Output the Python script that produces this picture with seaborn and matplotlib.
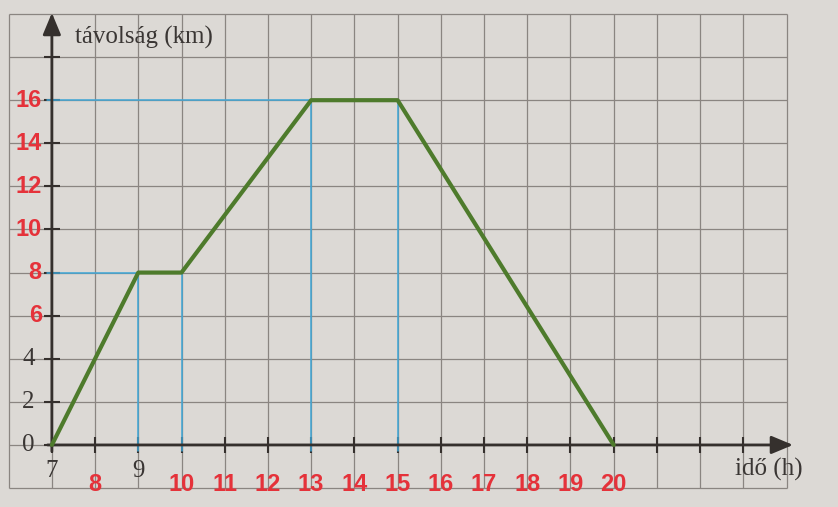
import matplotlib
matplotlib.use("Agg")
import matplotlib.pyplot as plt
import seaborn as sns

# Data: time of day (h) and distance (km)
hours = [7, 9, 10, 13, 15, 20]
distance = [0, 8, 8, 16, 16, 0]

# Tick values and which labels are printed in gray (the rest are red)
x_ticks = list(range(7, 24))
x_labels = list(range(7, 21))
x_gray = [7, 9]
y_ticks = list(range(0, 19, 2))
y_labels = list(range(0, 17, 2))
y_gray = [0, 2, 4]

# Break points that get the blue helper lines
guide_idx = [1, 2, 3, 4]

paper = "#dcd9d5"
grid_col = "#8a8581"
ink = "#35302d"
gray_txt = "#3a3634"
red = "#e5323a"
green = "#4e7b2c"
blue = "#3fa7d8"

sns.set_style("white")

fig = plt.figure(figsize=(8.38, 5.07), dpi=100, facecolor=paper)
ax = fig.add_axes([0, 0, 1, 1], facecolor=paper)
ax.set_xlim(5.80, 25.19)
ax.set_ylim(-2.88, 20.65)

# squared paper
ax.vlines(range(6, 25), -2, 20, color=grid_col, lw=0.9, zorder=0)
ax.hlines(range(-2, 21, 2), 6, 24, color=grid_col, lw=0.9, zorder=0)

# axes through the origin
for s in ["top", "right", "left", "bottom"]:
    ax.spines[s].set_visible(False)
ax.spines["left"].set_position(("data", 7))
ax.spines["bottom"].set_position(("data", 0))
ax.set_xticks(x_ticks)
ax.set_yticks(y_ticks)
ax.tick_params(direction="inout", length=12, width=1.5, color=ink,
               bottom=True, left=True, labelbottom=False, labelleft=False)

arrow = dict(arrowstyle="-|>,head_length=0.6,head_width=0.25", lw=2,
             color=ink, shrinkA=0, shrinkB=0, mutation_scale=22)
ax.annotate("", xy=(7, 20.05), xytext=(7, -0.3), arrowprops=arrow, zorder=3)
ax.annotate("", xy=(24.15, 0), xytext=(6.9, 0), arrowprops=arrow, zorder=3)

# blue helper lines
for i in guide_idx:
    ax.plot([hours[i], hours[i]], [-0.3, distance[i]], color=blue, lw=1.1, zorder=2)
for level in sorted(set(distance[i] for i in guide_idx)):
    first = min(hours[i] for i in guide_idx if distance[i] == level)
    ax.plot([6.88, first], [level, level], color=blue, lw=1.1, zorder=2)

# the journey
sns.lineplot(x=hours, y=distance, color=green, lw=3, ax=ax, zorder=4)

# tick labels
for v in x_labels:
    if v in x_gray:
        ax.annotate(str(v), xy=(v, 0), xytext=(0, -26), textcoords="offset pixels",
                    ha="center", va="center", color=gray_txt,
                    family="Liberation Serif", fontsize=18)
    else:
        ax.annotate(str(v), xy=(v, 0), xytext=(0, -40), textcoords="offset pixels",
                    ha="center", va="center", color=red,
                    family="Liberation Sans", fontweight="bold", fontsize=17)
for v in y_labels:
    if v in y_gray:
        ax.annotate(str(v), xy=(7, v), xytext=(-17, 0), textcoords="offset pixels",
                    ha="right", va="center", color=gray_txt,
                    family="Liberation Serif", fontsize=18)
    else:
        ax.annotate(str(v), xy=(7, v), xytext=(-10, 0), textcoords="offset pixels",
                    ha="right", va="center", color=red,
                    family="Liberation Sans", fontweight="bold", fontsize=17)

# axis titles
ax.annotate("távolság (km)", xy=(7, 20), xytext=(23, -23), textcoords="offset pixels",
            ha="left", va="center", color=gray_txt, family="Liberation Serif", fontsize=18)
ax.annotate("idő (h)", xy=(24.15, 0), xytext=(10, -25), textcoords="offset pixels",
            ha="right", va="center", color=gray_txt, family="Liberation Serif", fontsize=18)

fig.savefig("out.png", dpi=100, facecolor=paper)
